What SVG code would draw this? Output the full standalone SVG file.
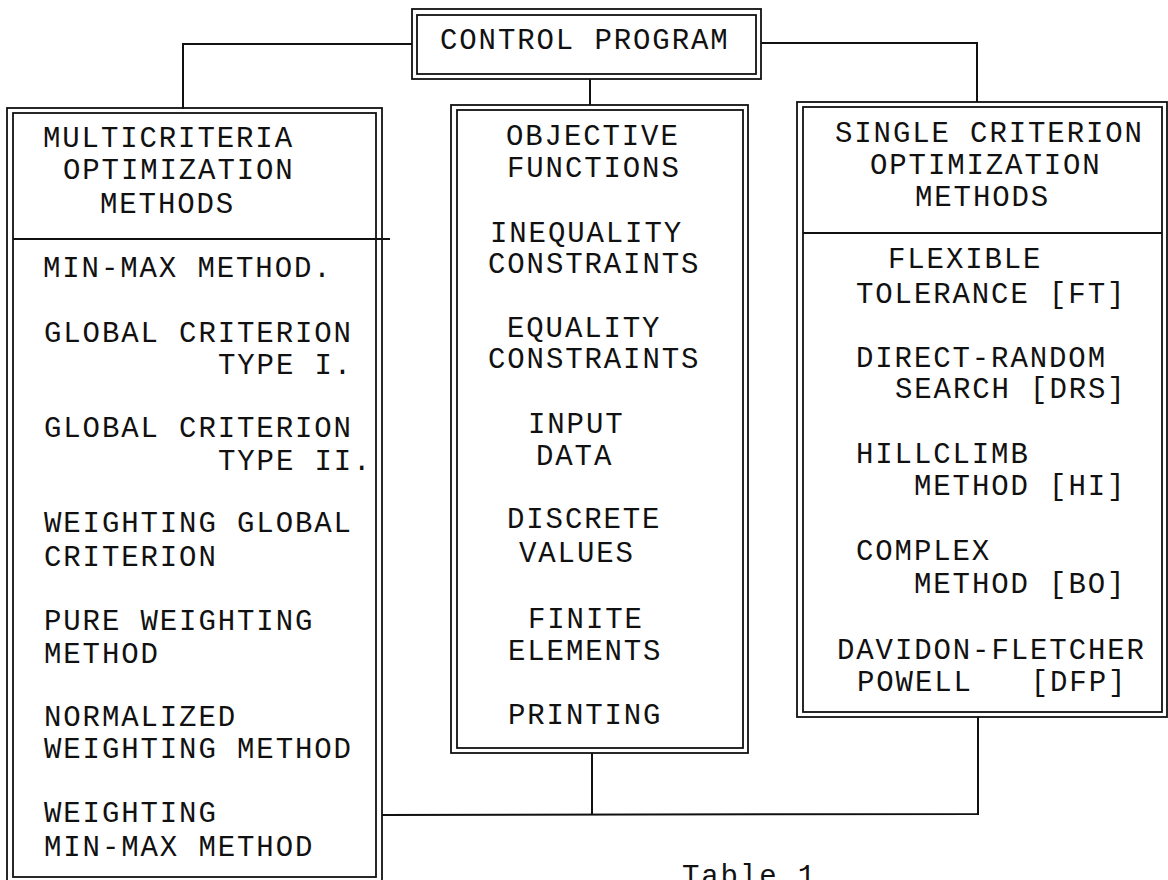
<svg xmlns="http://www.w3.org/2000/svg" width="1168" height="880" viewBox="0 0 1168 880">
<style>
.t{font-family:"Liberation Mono","DejaVu Sans Mono",monospace;font-size:29px;letter-spacing:1.9px;fill:#111}
.b{fill:none;stroke:#111;stroke-width:1.8}
.c{fill:none;stroke:#111;stroke-width:2}
</style>
<rect width="1168" height="880" fill="#fff"/>
<g id="connectors">
<polyline class="c" points="412,44 183,44 183,109"/>
<polyline class="c" points="761,43 977,43 977,102"/>
<line class="c" x1="590" y1="79" x2="590" y2="105"/>
<polyline class="c" points="382,815 978,814 978,717"/>
<line class="c" x1="592" y1="753" x2="592" y2="815"/>
</g>
<g id="control-program">
<rect class="b" x="412" y="9" width="349" height="70"/>
<rect class="b" x="417" y="15" width="339" height="59"/>
<text class="t" x="440" y="49">CONTROL PROGRAM</text>
</g>
<g id="multicriteria">
<rect class="b" x="7" y="108" width="375" height="780"/>
<rect class="b" x="13" y="113" width="363" height="764"/>
<line class="b" x1="13" y1="239" x2="390" y2="239"/>
<text class="t" x="43" y="147">MULTICRITERIA</text>
<text class="t" x="63" y="179">OPTIMIZATION</text>
<text class="t" x="100" y="213">METHODS</text>
<text class="t" x="43" y="277">MIN-MAX METHOD.</text>
<text class="t" x="44" y="342">GLOBAL CRITERION</text>
<text class="t" x="218" y="374">TYPE I.</text>
<text class="t" x="44" y="437">GLOBAL CRITERION</text>
<text class="t" x="218" y="470">TYPE II.</text>
<text class="t" x="44" y="532">WEIGHTING GLOBAL</text>
<text class="t" x="44" y="566">CRITERION</text>
<text class="t" x="44" y="630">PURE WEIGHTING</text>
<text class="t" x="44" y="663">METHOD</text>
<text class="t" x="44" y="726">NORMALIZED</text>
<text class="t" x="44" y="758">WEIGHTING METHOD</text>
<text class="t" x="44" y="822">WEIGHTING</text>
<text class="t" x="44" y="856">MIN-MAX METHOD</text>
</g>
<g id="program-modules">
<rect class="b" x="451" y="105" width="297" height="648"/>
<rect class="b" x="457" y="110" width="286" height="638"/>
<text class="t" x="506" y="145">OBJECTIVE</text>
<text class="t" x="507" y="177">FUNCTIONS</text>
<text class="t" x="490" y="242">INEQUALITY</text>
<text class="t" x="488" y="273">CONSTRAINTS</text>
<text class="t" x="507" y="337">EQUALITY</text>
<text class="t" x="488" y="368">CONSTRAINTS</text>
<text class="t" x="528" y="433">INPUT</text>
<text class="t" x="536" y="465">DATA</text>
<text class="t" x="507" y="528">DISCRETE</text>
<text class="t" x="519" y="562">VALUES</text>
<text class="t" x="528" y="628">FINITE</text>
<text class="t" x="508" y="660">ELEMENTS</text>
<text class="t" x="508" y="724">PRINTING</text>
</g>
<g id="single-criterion">
<rect class="b" x="797" y="102" width="370" height="615"/>
<rect class="b" x="803" y="107" width="359" height="605"/>
<line class="b" x1="803" y1="233" x2="1162" y2="233"/>
<text class="t" x="835" y="142">SINGLE CRITERION</text>
<text class="t" x="870" y="174">OPTIMIZATION</text>
<text class="t" x="915" y="206">METHODS</text>
<text class="t" x="888" y="268">FLEXIBLE</text>
<text class="t" x="856" y="303">TOLERANCE [FT]</text>
<text class="t" x="856" y="367">DIRECT-RANDOM</text>
<text class="t" x="895" y="398">SEARCH [DRS]</text>
<text class="t" x="856" y="463">HILLCLIMB</text>
<text class="t" x="914" y="495">METHOD [HI]</text>
<text class="t" x="856" y="560">COMPLEX</text>
<text class="t" x="914" y="593">METHOD [BO]</text>
<text class="t" x="837" y="659">DAVIDON-FLETCHER</text>
<text class="t" x="857" y="691" xml:space="preserve">POWELL   [DFP]</text>
</g>
<g id="caption">
<text class="t" x="682" y="885">Table 1.</text>
</g>
</svg>
